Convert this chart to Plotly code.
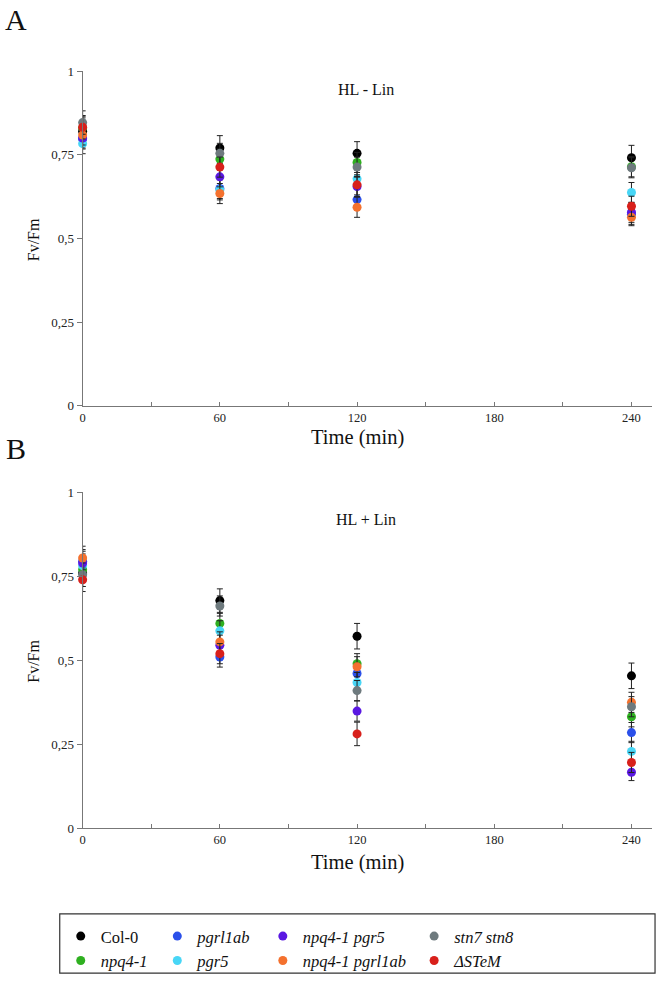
import plotly.graph_objects as go

W, H = 663, 983
times = [0, 60, 120, 240]

series_names = ["Col-0", "<i>npq4-1</i>", "<i>pgrl1ab</i>", "<i>pgr5</i>",
                "<i>npq4-1 pgr5</i>", "<i>npq4-1 pgrl1ab</i>", "<i>stn7 stn8</i>", "<i>ΔSTeM</i>"]
series_colors = ["#000000", "#2fb020", "#2b50ea", "#48d6f6",
                 "#5a18e2", "#f4712e", "#6e7a7e", "#d8201b"]

# Panel A: HL - Lin (Fv/Fm)
a_col0 = [0.82, 0.770, 0.754, 0.741]
a_npq4 = [0.83, 0.737, 0.727, 0.714]
a_pgrl1ab = [0.797, 0.649, 0.616, 0.572]
a_pgr5 = [0.783, 0.645, 0.678, 0.637]
a_npq4pgr5 = [0.80, 0.684, 0.655, 0.578]
a_npq4pgrl1ab = [0.809, 0.634, 0.593, 0.563]
a_stn7stn8 = [0.846, 0.754, 0.713, 0.711]
a_stem = [0.832, 0.713, 0.660, 0.596]

a_col0_err = [0.04, 0.037, 0.035, 0.037]
a_npq4_err = [0.035, 0.03, 0.03, 0.03]
a_pgrl1ab_err = [0.03, 0.03, 0.03, 0.03]
a_pgr5_err = [0.03, 0.03, 0.03, 0.03]
a_npq4pgr5_err = [0.03, 0.03, 0.03, 0.03]
a_npq4pgrl1ab_err = [0.03, 0.03, 0.03, 0.025]
a_stn7stn8_err = [0.035, 0.03, 0.03, 0.03]
a_stem_err = [0.035, 0.03, 0.03, 0.03]

# Panel B: HL + Lin (Fv/Fm)
b_col0 = [0.76, 0.678, 0.572, 0.454]
b_npq4 = [0.77, 0.610, 0.490, 0.332]
b_pgrl1ab = [0.795, 0.510, 0.461, 0.285]
b_pgr5 = [0.782, 0.588, 0.434, 0.229]
b_npq4pgr5 = [0.79, 0.545, 0.349, 0.167]
b_npq4pgrl1ab = [0.805, 0.555, 0.481, 0.375]
b_stn7stn8 = [0.755, 0.662, 0.410, 0.362]
b_stem = [0.740, 0.520, 0.281, 0.196]

b_col0_err = [0.04, 0.035, 0.038, 0.038]
b_npq4_err = [0.035, 0.03, 0.03, 0.03]
b_pgrl1ab_err = [0.035, 0.03, 0.03, 0.03]
b_pgr5_err = [0.035, 0.03, 0.03, 0.03]
b_npq4pgr5_err = [0.035, 0.03, 0.03, 0.025]
b_npq4pgrl1ab_err = [0.035, 0.03, 0.03, 0.03]
b_stn7stn8_err = [0.035, 0.03, 0.03, 0.03]
b_stem_err = [0.035, 0.03, 0.035, 0.03]

a_vals = [a_col0, a_npq4, a_pgrl1ab, a_pgr5, a_npq4pgr5, a_npq4pgrl1ab, a_stn7stn8, a_stem]
a_errs = [a_col0_err, a_npq4_err, a_pgrl1ab_err, a_pgr5_err, a_npq4pgr5_err,
          a_npq4pgrl1ab_err, a_stn7stn8_err, a_stem_err]
b_vals = [b_col0, b_npq4, b_pgrl1ab, b_pgr5, b_npq4pgr5, b_npq4pgrl1ab, b_stn7stn8, b_stem]
b_errs = [b_col0_err, b_npq4_err, b_pgrl1ab_err, b_pgr5_err, b_npq4pgr5_err,
          b_npq4pgrl1ab_err, b_stn7stn8_err, b_stem_err]

x_tickvals = [0, 30, 60, 90, 120, 150, 180, 210, 240]
x_ticktext = ["0", "", "60", "", "120", "", "180", "", "240"]
y_tickvals = [0, 0.25, 0.5, 0.75, 1]
y_ticktext = ["0", "0,25", "0,5", "0,75", "1"]

SERIF = "Liberation Serif, Times New Roman, serif"
legend_ids = ["legend", "legend", "legend2", "legend2", "legend3", "legend3", "legend4", "legend4"]

fig = go.Figure()

for i, (name, col) in enumerate(zip(series_names, series_colors)):
    fig.add_trace(go.Scatter(
        x=times, y=a_vals[i], mode="markers", name=name,
        marker=dict(color=col, size=9),
        error_y=dict(type="data", array=a_errs[i], color="#222", thickness=1, width=3),
        xaxis="x", yaxis="y", cliponaxis=False, legend=legend_ids[i], showlegend=True))
for i, (name, col) in enumerate(zip(series_names, series_colors)):
    fig.add_trace(go.Scatter(
        x=times, y=b_vals[i], mode="markers", name=name,
        marker=dict(color=col, size=9),
        error_y=dict(type="data", array=b_errs[i], color="#222", thickness=1, width=3),
        xaxis="x2", yaxis="y2", cliponaxis=False, legend=legend_ids[i], showlegend=False))

def py(px):
    return 1 - px / H

def pxx(px):
    return px / W

xdom = [pxx(80), pxx(652)]
xaxis_common = dict(range=[0, 249], domain=xdom, showline=True, linecolor="#777", linewidth=1,
                    ticks="inside", ticklen=4, tickcolor="#777", tickvals=x_tickvals,
                    ticktext=x_ticktext, tickfont=dict(family=SERIF, size=12.5, color="#222"),
                    showgrid=False, zeroline=False)
yaxis_common = dict(range=[0, 1], showline=True, linecolor="#777", linewidth=1,
                    ticks="outside", ticklen=5, tickcolor="#777", tickvals=y_tickvals,
                    ticktext=y_ticktext, tickfont=dict(family=SERIF, size=13, color="#222"),
                    showgrid=False, zeroline=False)

fig.update_layout(
    width=W, height=H, autosize=False,
    margin=dict(l=0, r=0, t=0, b=0),
    paper_bgcolor="white", plot_bgcolor="white",
    font=dict(family=SERIF, color="#111"),
    xaxis=dict(**xaxis_common, anchor="y"),
    yaxis=dict(**yaxis_common, domain=[py(405), py(65)], anchor="x"),
    xaxis2=dict(**xaxis_common, anchor="y2"),
    yaxis2=dict(**yaxis_common, domain=[py(834), py(493)], anchor="x2"),
)

leg_common = dict(orientation="v", yanchor="top", xanchor="left", bgcolor="rgba(0,0,0,0)",
                  borderwidth=0, font=dict(family=SERIF, size=16.5, color="#111"),
                  tracegroupgap=0, itemclick=False, itemdoubleclick=False)
leg_y = py(926)
fig.update_layout(
    legend=dict(**leg_common, x=pxx(58), y=leg_y),
    legend2=dict(**leg_common, x=pxx(155), y=leg_y),
    legend3=dict(**leg_common, x=pxx(261), y=leg_y),
    legend4=dict(**leg_common, x=pxx(413), y=leg_y),
)

fig.add_shape(type="rect", xref="paper", yref="paper",
              x0=pxx(57), x1=pxx(655), y0=py(981), y1=py(921),
              line=dict(color="#333", width=1.2), fillcolor="rgba(0,0,0,0)")

ann_common = dict(xref="paper", yref="paper", showarrow=False, xanchor="center", yanchor="middle")
fig.add_annotation(text="HL - Lin", x=pxx(365), y=py(84),
                   font=dict(family=SERIF, size=16, color="#111"), **ann_common)
fig.add_annotation(text="HL + Lin", x=pxx(365), y=py(520),
                   font=dict(family=SERIF, size=16, color="#111"), **ann_common)
fig.add_annotation(text="A", x=pxx(13), y=py(13),
                   font=dict(family=SERIF, size=30, color="#111"), **ann_common)
fig.add_annotation(text="B", x=pxx(13), y=py(448),
                   font=dict(family=SERIF, size=30, color="#111"), **ann_common)
for ty in (437, 869):
    fig.add_annotation(text="Time (min)", x=pxx(356), y=py(ty),
                       font=dict(family=SERIF, size=20.5, color="#111"), **ann_common)
for fy in (236, 664):
    fig.add_annotation(text="Fv/Fm", x=pxx(31), y=py(fy), textangle=-90,
                       font=dict(family=SERIF, size=16, color="#111"), **ann_common)

fig.write_html(
    "out.html",
    config={"displayModeBar": False},
    post_script=("document.documentElement.style.margin='0';"
                 "document.body.style.margin='0';document.body.style.overflow='hidden';"
                 "document.documentElement.style.overflow='hidden';"
                 "var g=document.querySelector('.plotly-graph-div');"
                 "g.style.position='fixed';g.style.left='0px';g.style.top='0px';"
                 "window.scrollTo(0,0);"),
)
